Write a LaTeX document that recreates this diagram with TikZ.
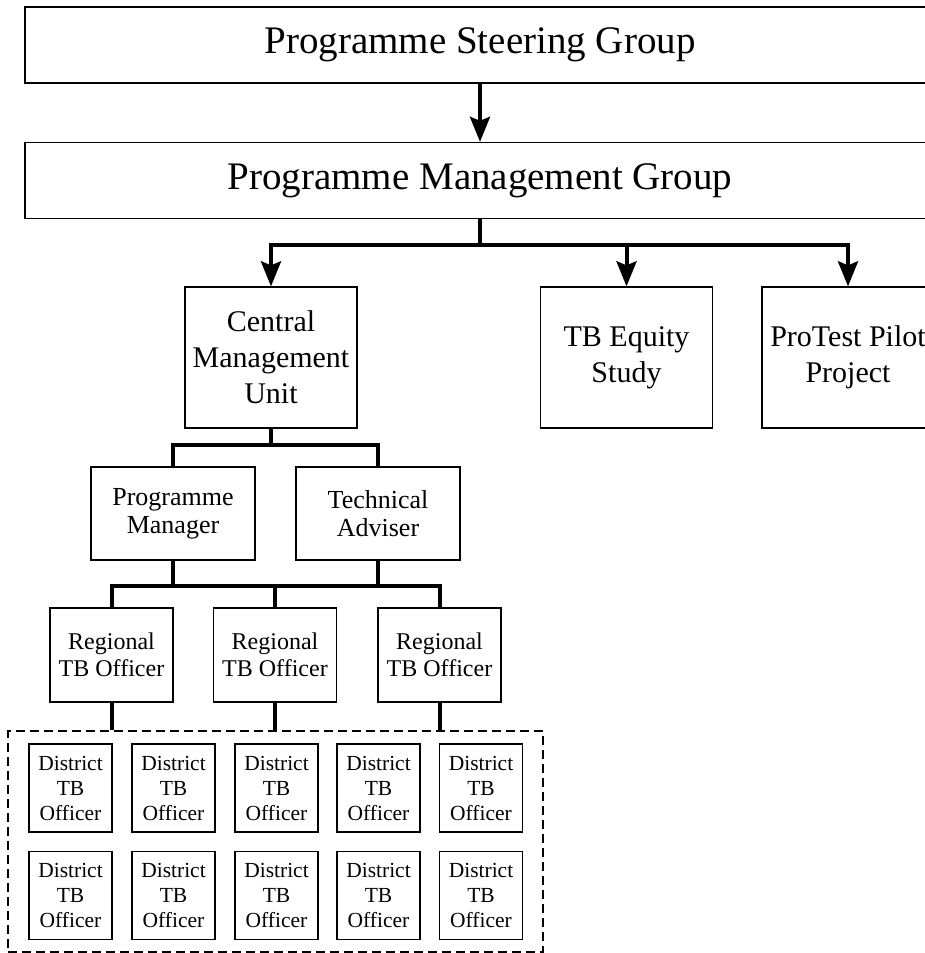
\documentclass[tikz,border=0pt]{standalone}
\usepackage{fontspec}
\setmainfont{Liberation Serif}
\usetikzlibrary{arrows.meta,fit}

\tikzset{
  box/.style={draw,line width=1.3pt,inner sep=0pt,align=center},
  groupbox/.style={box,minimum width=910pt,minimum height=76pt,font=\fontsize{39}{47}\selectfont},
  unitbox/.style={box,minimum width=172pt,minimum height=141pt,font=\fontsize{30}{36}\selectfont},
  staffbox/.style={box,minimum width=164pt,minimum height=93pt,font=\fontsize{26}{28}\selectfont},
  regionbox/.style={box,minimum width=123pt,minimum height=94pt,font=\fontsize{24}{27}\selectfont},
  districtbox/.style={box,minimum width=83pt,minimum height=88pt,font=\fontsize{21.5}{25}\selectfont},
  dashbox/.style={draw,line width=2pt,dash pattern=on 9pt off 5pt,inner xsep=20pt,inner ysep=12pt},
  link/.style={line width=4pt},
  arrowlink/.style={link,-{Stealth[length=25pt,width=20pt,inset=4pt]}},
}

\begin{document}
\begin{tikzpicture}[x=1pt,y=-1pt]
% page frame, right side cut off
\useasboundingbox (0,0) rectangle (925,953);
\clip (0,0) rectangle (925,953);
% top groups
\node[groupbox] (psg) at (480,45) {Programme Steering Group};
\node[groupbox] (pmg) at (480,180.5) {Programme Management Group};
% units under management group
\node[unitbox] (cmu) at (271,357.5) {Central\\Management\\Unit};
\node[unitbox] (tbe) at (626.5,357.5) {TB Equity\\Study};
\node[unitbox] (ptp) at (848,357.5) {ProTest Pilot\\Project};
% central staff
\node[staffbox] (pm) at (173,513.5) {Programme\\Manager};
\node[staffbox] (ta) at (378,513.5) {Technical\\Adviser};
% regional officers
\node[regionbox] (reg1) at (111.5,655) {Regional\\TB Officer};
\node[regionbox] (reg2) at (275,655) {Regional\\TB Officer};
\node[regionbox] (reg3) at (439.5,655) {Regional\\TB Officer};
% district officers, top row
\node[districtbox] (d11) at (70.5,788) {District\\TB\\Officer};
\node[districtbox] (d12) at (173.5,788) {District\\TB\\Officer};
\node[districtbox] (d13) at (276.5,788) {District\\TB\\Officer};
\node[districtbox] (d14) at (378.5,788) {District\\TB\\Officer};
\node[districtbox] (d15) at (481,788) {District\\TB\\Officer};
% district officers, bottom row
\node[districtbox] (d21) at (70.5,895.5) {District\\TB\\Officer};
\node[districtbox] (d22) at (173.5,895.5) {District\\TB\\Officer};
\node[districtbox] (d23) at (276.5,895.5) {District\\TB\\Officer};
\node[districtbox] (d24) at (378.5,895.5) {District\\TB\\Officer};
\node[districtbox] (d25) at (481,895.5) {District\\TB\\Officer};
% dashed frame round the districts
\node[dashbox,fit=(d11)(d25)] (dgroup) {};
% steering to management
\draw[arrowlink] (psg) -- (pmg);
% management to units
\coordinate (jpmg) at (480,245);
\draw[link] (pmg) -- (jpmg);
\draw[arrowlink] (jpmg) -| (cmu.north);
\draw[arrowlink] (jpmg) -| (ptp.north);
\draw[arrowlink] (jpmg -| tbe.north) -- (tbe.north);
% unit to staff
\coordinate (jcmu) at (271,445);
\draw[link] (cmu) -- (jcmu);
\draw[link] (pm.north) |- (jcmu) -| (ta.north);
% staff to regions
\coordinate (jstaff) at (275,586);
\draw[link] (pm) -- (pm |- jstaff);
\draw[link] (ta) -- (ta |- jstaff);
\draw[link] (reg1.north) |- (jstaff) -| (reg3.north);
\draw[link] (reg2) -- (jstaff);
% regions to districts
\draw[link] (reg1) -- (reg1 |- dgroup.north);
\draw[link] (reg2) -- (reg2 |- dgroup.north);
\draw[link] (reg3) -- (reg3 |- dgroup.north);
\end{tikzpicture}
\end{document}
